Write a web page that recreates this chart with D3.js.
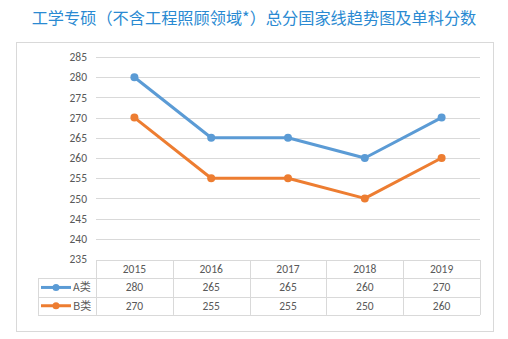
<!DOCTYPE html>
<html><head><meta charset="utf-8">
<script src="https://cdn.jsdelivr.net/npm/d3@7"></script>
<style>html,body{margin:0;padding:0;background:#fff;}</style>
</head><body>
<svg id="c" width="508" height="339"></svg>
<script>
const title = "工学专硕（不含工程照顾领域*）总分国家线趋势图及单科分数";
const years = ["2015","2016","2017","2018","2019"];
const seriesNames = ["A类","B类"];
const seriesA = [280,265,265,260,270];
const seriesB = [270,255,255,250,260];
const yTicks = [235,240,245,250,255,260,265,270,275,280,285];
const colors = ["#5B9BD5","#ED7D31"];

const svg = d3.select("#c");
const font = "'Microsoft YaHei','Noto Sans CJK SC',sans-serif";
const numFont = "Calibri,Carlito,'Liberation Sans','DejaVu Sans',sans-serif";

svg.append("text").attr("x",254).attr("y",24).attr("text-anchor","middle")
  .attr("font-family",font).attr("font-size",16.2).attr("fill","#2a8ad2").text(title);

// outer box
svg.append("rect").attr("x",16.5).attr("y",42.5).attr("width",477).attr("height",289)
  .attr("fill","none").attr("stroke","#d9d9d9");

const x = d3.scaleBand().domain(years).range([96,480]);
const y = d3.scaleLinear().domain([235,285]).range([259,57]);

// grid
svg.append("g").selectAll("line").data(yTicks.filter(t=>t>235)).join("line")
  .attr("x1",96).attr("x2",480).attr("y1",d=>Math.round(y(d))+0.5).attr("y2",d=>Math.round(y(d))+0.5)
  .attr("stroke","#d9d9d9").attr("stroke-width",1);

// y axis labels
const yAxis = d3.axisLeft(y).tickValues(yTicks).tickSize(0).tickPadding(0);
const ga = svg.append("g").attr("transform","translate(87,0)").call(yAxis);
ga.select(".domain").remove();
ga.selectAll("text").attr("font-family",numFont).attr("font-size",11.5).attr("fill","#595959");

// lines
const data = [seriesA, seriesB];
const line = d3.line().x((d,i)=>x(years[i])+x.bandwidth()/2).y(d=>y(d));
data.forEach((s,k)=>{
  svg.append("path").datum(s).attr("d",line).attr("fill","none")
    .attr("stroke",colors[k]).attr("stroke-width",3).attr("stroke-linejoin","round");
  svg.append("g").selectAll("circle").data(s).join("circle")
    .attr("cx",(d,i)=>x(years[i])+x.bandwidth()/2).attr("cy",d=>y(d)).attr("r",4)
    .attr("fill",colors[k]);
});

// data table
const tTop = 260, rowH = 18.3, legL = 38;
const tg = svg.append("g");
const gridC = "#d9d9d9";
[0,1,2,3].forEach(r=>{
  const yy = Math.round(tTop + r*rowH)+0.5;
  tg.append("line").attr("x1", r===0?96:legL).attr("x2",480).attr("y1",yy).attr("y2",yy).attr("stroke",gridC);
});
const vx = years.map(d=>x(d)).concat([480]);
vx.forEach(v=>{
  tg.append("line").attr("x1",Math.round(v)+0.5).attr("x2",Math.round(v)+0.5)
    .attr("y1",tTop).attr("y2",tTop+3*rowH).attr("stroke",gridC);
});
tg.append("line").attr("x1",legL+0.5).attr("x2",legL+0.5).attr("y1",tTop+rowH).attr("y2",tTop+3*rowH).attr("stroke",gridC);

tg.selectAll("text.h").data(years).join("text").attr("class","h")
  .attr("x",d=>x(d)+x.bandwidth()/2).attr("y",tTop+rowH/2+4).attr("text-anchor","middle")
  .attr("font-family",numFont).attr("font-size",11.5).attr("fill","#595959").text(d=>d);

data.forEach((s,k)=>{
  const cy = tTop + rowH*(k+1) + rowH/2;
  tg.selectAll("text.v"+k).data(s).join("text").attr("class","v"+k)
    .attr("x",(d,i)=>x(years[i])+x.bandwidth()/2).attr("y",cy+4).attr("text-anchor","middle")
    .attr("font-family",numFont).attr("font-size",11.5).attr("fill","#595959").text(d=>d);
  tg.append("line").attr("x1",41).attr("x2",71).attr("y1",cy).attr("y2",cy)
    .attr("stroke",colors[k]).attr("stroke-width",3);
  tg.append("circle").attr("cx",56).attr("cy",cy).attr("r",3.5).attr("fill",colors[k]);
  tg.append("text").attr("x",73).attr("y",cy+4).attr("font-family",font).attr("font-size",11)
    .attr("fill","#595959").text(seriesNames[k]);
});
</script>
</body></html>
